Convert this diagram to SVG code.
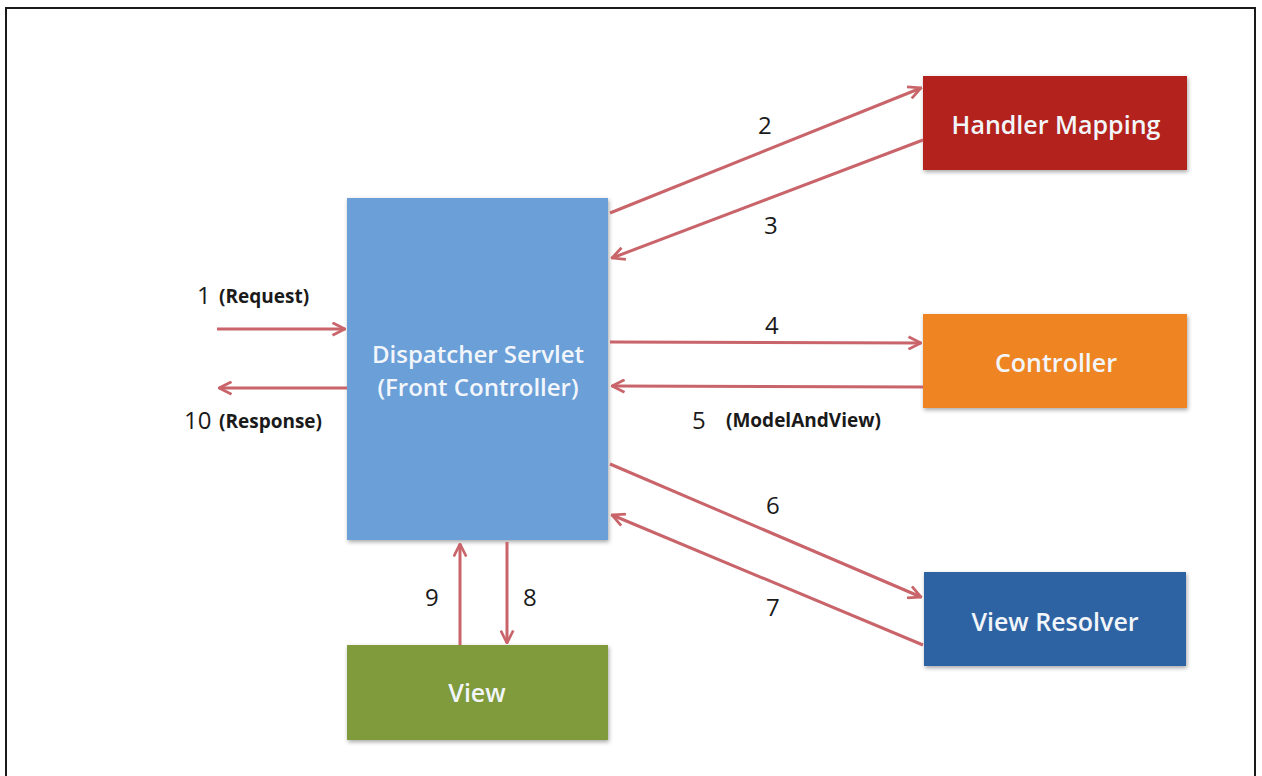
<svg xmlns="http://www.w3.org/2000/svg" width="1262" height="776" viewBox="0 0 1262 776">
  <defs>
    <marker id="arrow" viewBox="0 0 12 12" refX="11" refY="6" markerWidth="5" markerHeight="5" markerUnits="strokeWidth" orient="auto">
      <path d="M1,1 L11,6 L1,11" fill="none" stroke="#c8646a" stroke-width="2.2"/>
    </marker>
    <filter id="shadow" x="-10%" y="-10%" width="120%" height="125%">
      <feDropShadow dx="1" dy="2" stdDeviation="2" flood-color="#000" flood-opacity="0.35"/>
    </filter>
    <style>
      .box { filter: url(#shadow); }
      .label { font-family: "Open Sans", "Liberation Sans", sans-serif; font-weight: 600; font-size: 25px; fill: #f2f6fb; text-anchor: middle; }
      .label.two { font-size: 24px; }
      .num { font-family: "Open Sans", "Liberation Sans", sans-serif; font-size: 24px; fill: #1a1a1a; }
      .note { font-family: "Open Sans", "Liberation Sans", sans-serif; font-size: 19px; font-weight: 700; fill: #1a1a1a; }
      .conn { stroke: #c8646a; stroke-width: 3; fill: none; marker-end: url(#arrow); }
    </style>
  </defs>

  <rect x="0" y="0" width="1262" height="776" fill="#ffffff"/>
  <!-- outer frame -->
  <rect x="6" y="8" width="1249" height="800" fill="none" stroke="#1a1a1a" stroke-width="2"/>

  <g id="dispatcher">
    <rect class="box" x="347" y="198" width="261" height="342" fill="#6a9fd8"/>
    <text class="label two" x="478" y="363">Dispatcher Servlet</text>
    <text class="label two" x="478" y="396">(Front Controller)</text>
  </g>

  <g id="handler-mapping">
    <rect class="box" x="923" y="76" width="264" height="94" fill="#b3211f"/>
    <text class="label" x="1056" y="134">Handler Mapping</text>
  </g>

  <g id="controller">
    <rect class="box" x="923" y="314" width="264" height="94" fill="#ee8424"/>
    <text class="label" x="1056" y="372">Controller</text>
  </g>

  <g id="view-resolver">
    <rect class="box" x="924" y="572" width="262" height="94" fill="#2f63a3"/>
    <text class="label" x="1055" y="631">View Resolver</text>
  </g>

  <g id="view">
    <rect class="box" x="347" y="645" width="261" height="95" fill="#7f9b3b"/>
    <text class="label" x="477" y="702">View</text>
  </g>

  <g id="connectors">
    <line class="conn" x1="217" y1="329" x2="345" y2="329"/>
    <line class="conn" x1="347" y1="388" x2="219" y2="388"/>
    <line class="conn" x1="610" y1="213" x2="921" y2="88"/>
    <line class="conn" x1="923" y1="140" x2="612" y2="258"/>
    <line class="conn" x1="610" y1="342" x2="921" y2="343"/>
    <line class="conn" x1="923" y1="387" x2="612" y2="386"/>
    <line class="conn" x1="610" y1="464" x2="921" y2="597"/>
    <line class="conn" x1="923" y1="645" x2="612" y2="515"/>
    <line class="conn" x1="460" y1="645" x2="460" y2="544"/>
    <line class="conn" x1="507" y1="542" x2="507" y2="643"/>
  </g>

  <g id="labels">
    <text class="num" x="197" y="304">1</text>
    <text class="note" x="219" y="303">(Request)</text>
    <text class="num" x="184" y="429">10</text>
    <text class="note" x="219" y="428">(Response)</text>
    <text class="num" x="758" y="134">2</text>
    <text class="num" x="764" y="234">3</text>
    <text class="num" x="765" y="334">4</text>
    <text class="num" x="692" y="429">5</text>
    <text class="note" x="726" y="427">(ModelAndView)</text>
    <text class="num" x="766" y="514">6</text>
    <text class="num" x="766" y="616">7</text>
    <text class="num" x="425" y="606">9</text>
    <text class="num" x="523" y="606">8</text>
  </g>
</svg>
